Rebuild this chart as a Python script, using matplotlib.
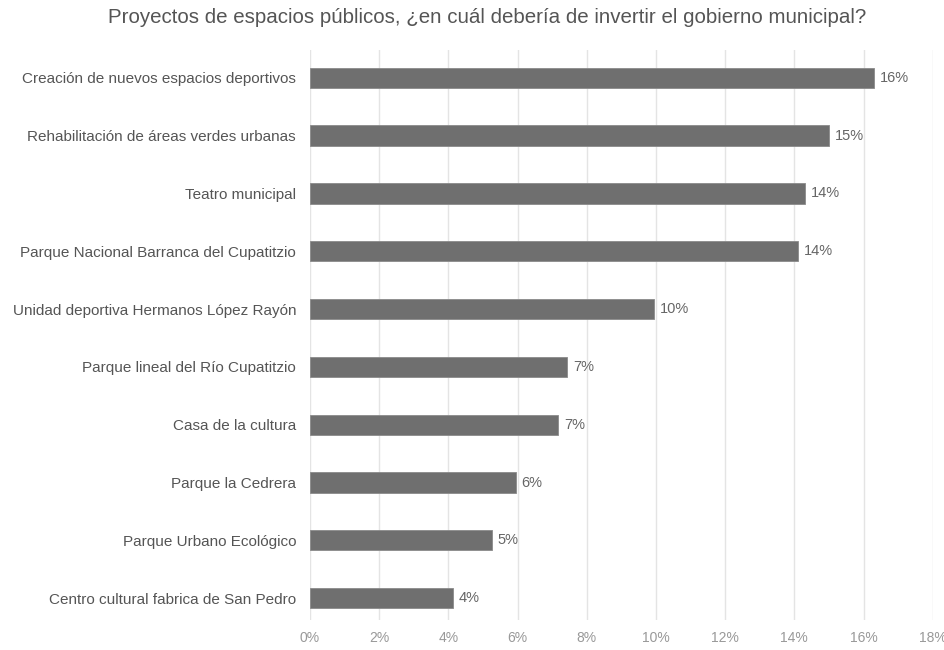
import matplotlib.pyplot as plt
from matplotlib.ticker import FuncFormatter

plt.rcParams['font.family'] = ['Liberation Sans', 'DejaVu Sans']

projects = [
    "Creación de nuevos espacios deportivos",
    "Rehabilitación de áreas verdes urbanas",
    "Teatro municipal",
    "Parque Nacional Barranca del Cupatitzio",
    "Unidad deportiva Hermanos López Rayón",
    "Parque lineal del Río Cupatitzio",
    "Casa de la cultura",
    "Parque la Cedrera",
    "Parque Urbano Ecológico",
    "Centro cultural fabrica de San Pedro",
]
shares = [16.3, 15.0, 14.3, 14.1, 9.94, 7.43, 7.17, 5.95, 5.26, 4.13]
x_ticks = [0, 2, 4, 6, 8, 10, 12, 14, 16, 18]

fig = plt.figure(figsize=(9.45, 6.5), dpi=100)
ax = fig.add_axes([0.328, 0.046, 0.659, 0.877])

pos = list(range(len(projects)))
ax.barh(pos, shares, height=0.35, color='#6f6f6f', edgecolor='#8a8a8a', linewidth=0.6, zorder=3)

for p, v in zip(pos, shares):
    ax.text(v + 0.17, p, f"{v:.0f}%", va='center', ha='left', fontsize=10.5, color='#666666', zorder=4)

ax.set_ylim(9.38, -0.48)
ax.set_xlim(0, 18)
ax.set_yticks(pos)
ax.set_yticklabels(projects, fontsize=11, color='#555555')
ax.set_xticks(x_ticks)
ax.xaxis.set_major_formatter(FuncFormatter(lambda v, _: f"{v:.0f}%"))
ax.tick_params(axis='x', length=0, labelsize=10, labelcolor='#999999', pad=8)
ax.tick_params(axis='y', length=0, pad=10)
ax.grid(axis='x', color='#e4e4e4', linewidth=1, zorder=0)
for s in ax.spines.values():
    s.set_visible(False)

fig.text(0.515, 0.973, "Proyectos de espacios públicos, ¿en cuál debería de invertir el gobierno municipal?",
         ha='center', va='center', fontsize=14.8, color='#555555')

fig.savefig('out.png', dpi=100)
